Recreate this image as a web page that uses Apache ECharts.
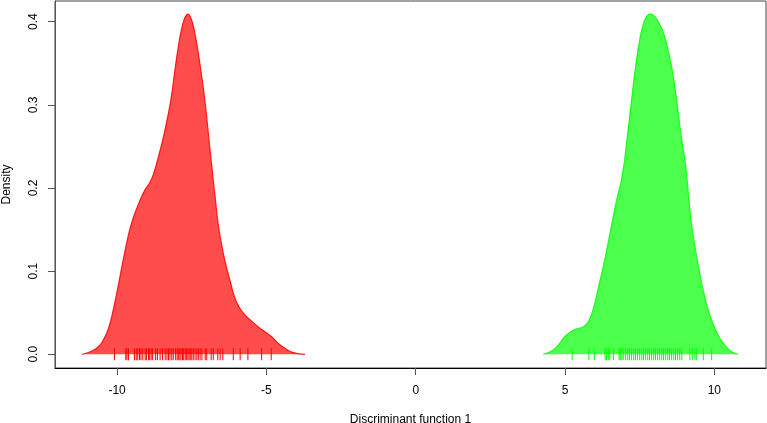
<!DOCTYPE html>
<html>
<head>
<meta charset="utf-8">
<script src="https://cdn.jsdelivr.net/npm/echarts@6/dist/echarts.min.js"></script>
<style>html,body{margin:0;padding:0;background:#fff}#c{width:767px;height:423px}</style>
</head>
<body>
<div id="c"></div>
<script>
// Density curve of group 1 (red): [x, density]
var redDensity = [[-11.18,0],[-10.9,0.003],[-10.63,0.009],[-10.45,0.018],[-10.29,0.031],[-10.12,0.055],[-9.96,0.083],[-9.80,0.113],[-9.62,0.1435],[-9.48,0.162],[-9.34,0.1756],[-9.20,0.188],[-9.06,0.198],[-8.90,0.207],[-8.78,0.217],[-8.60,0.240],[-8.42,0.266],[-8.20,0.306],[-8.06,0.343],[-7.95,0.370],[-7.86,0.388],[-7.76,0.402],[-7.68,0.408],[-7.62,0.409],[-7.55,0.406],[-7.47,0.398],[-7.38,0.383],[-7.28,0.362],[-7.17,0.335],[-7.05,0.302],[-6.94,0.264],[-6.83,0.226],[-6.72,0.19],[-6.61,0.1555],[-6.50,0.132],[-6.38,0.111],[-6.20,0.086],[-6.05,0.067],[-5.90,0.056],[-5.71,0.047],[-5.50,0.040],[-5.27,0.033],[-5.05,0.027],[-4.82,0.021],[-4.60,0.013],[-4.38,0.0072],[-4.10,0.002],[-3.71,0]];
// Density curve of group 2 (green)
var greenDensity = [[4.27,0],[4.55,0.004],[4.77,0.011],[4.94,0.019],[5.11,0.025],[5.28,0.029],[5.44,0.031],[5.61,0.033],[5.78,0.039],[5.95,0.0553],[6.11,0.079],[6.34,0.1155],[6.56,0.1555],[6.73,0.1856],[6.92,0.2155],[7.10,0.266],[7.23,0.306],[7.36,0.345],[7.50,0.378],[7.63,0.398],[7.75,0.407],[7.86,0.409],[7.98,0.407],[8.12,0.400],[8.30,0.386],[8.50,0.358],[8.65,0.328],[8.77,0.296],[8.90,0.260],[9.04,0.226],[9.15,0.1856],[9.24,0.1555],[9.46,0.107],[9.69,0.067],[9.85,0.047],[10.02,0.031],[10.19,0.019],[10.35,0.011],[10.58,0.003],[10.80,0]];
// Rug (individual observations)
var redRug = [-10.09,-9.71,-9.67,-9.62,-9.42,-9.36,-9.31,-9.25,-9.20,-9.14,-9.06,-9.02,-8.95,-8.91,-8.86,-8.81,-8.71,-8.65,-8.56,-8.48,-8.39,-8.33,-8.28,-8.23,-8.17,-8.12,-8.04,-7.99,-7.95,-7.90,-7.86,-7.81,-7.77,-7.72,-7.68,-7.63,-7.59,-7.55,-7.50,-7.45,-7.39,-7.33,-7.28,-7.22,-7.16,-7.05,-7.00,-6.85,-6.78,-6.63,-6.55,-6.46,-6.11,-5.88,-5.62,-5.16,-4.84];
var greenRug = [5.24,5.80,5.98,6.34,6.39,6.45,6.50,6.62,6.81,6.85,6.90,6.95,7.03,7.10,7.16,7.23,7.30,7.36,7.43,7.50,7.57,7.63,7.70,7.77,7.83,7.90,7.97,8.03,8.10,8.17,8.24,8.30,8.37,8.44,8.50,8.57,8.64,8.70,8.77,8.84,8.91,9.18,9.26,9.35,9.41,9.63,9.91];
var xTicks = [-10,-5,0,5,10];
var yTicks = [0,0.1,0.2,0.3,0.4];
var xTitle = 'Discriminant function 1';
var yTitle = 'Density';

var font = "'Liberation Sans', Arial, sans-serif";
var chart = echarts.init(document.getElementById('c'), null, {renderer:'canvas'});
chart.setOption({
  animation: false,
  grid: {left:55, right:1, top:1, bottom:55, containLabel:false, outerBoundsMode:'none',
         show:true, borderColor:'#444', borderWidth:1, backgroundColor:'transparent'},
  xAxis: {
    type:'value', min:-12.08, max:11.73,
    name: xTitle, nameLocation:'middle', nameGap:46,
    nameTextStyle:{color:'#000', fontSize:12, fontFamily:font},
    axisLine:{show:true, onZero:false, lineStyle:{color:'#000'}},
    axisTick:{show:true, length:7, inside:false, customValues:xTicks, lineStyle:{color:'#555'}},
    axisLabel:{customValues:xTicks, margin:17, color:'#000', fontSize:12, fontFamily:font},
    splitLine:{show:false}
  },
  yAxis: {
    type:'value', min:-0.0165, max:0.4249,
    name: yTitle, nameLocation:'middle', nameGap:42, nameRotate:90,
    nameTextStyle:{color:'#000', fontSize:12, fontFamily:font},
    axisLine:{show:true, onZero:false, lineStyle:{color:'#555'}},
    axisTick:{show:true, length:7, customValues:yTicks, lineStyle:{color:'#555'}},
    axisLabel:{customValues:yTicks, rotate:90, margin:15, color:'#000', fontSize:12, fontFamily:font,
      formatter:function(v){return v.toFixed(1);}},
    splitLine:{show:false}
  },
  series: [
    {type:'line', data:redDensity, smooth:0.5, symbol:'none',
     lineStyle:{color:'rgba(255,0,0,0.85)', width:1.2},
     areaStyle:{color:'rgba(255,0,0,0.7)', opacity:1}},
    {type:'line', data:greenDensity, smooth:0.5, symbol:'none',
     lineStyle:{color:'rgba(0,255,0,0.85)', width:1.2},
     areaStyle:{color:'rgba(0,255,0,0.7)', opacity:1}},
    {type:'scatter', data:redRug.map(function(v){return [v,0];}), symbol:'rect', symbolSize:[1,12],
     itemStyle:{color:'#ff0000', opacity:1}, z:5},
    {type:'scatter', data:greenRug.map(function(v){return [v,0];}), symbol:'rect', symbolSize:[1,12],
     itemStyle:{color:'#00ff00', opacity:1}, z:5}
  ]
});
</script>
</body>
</html>
